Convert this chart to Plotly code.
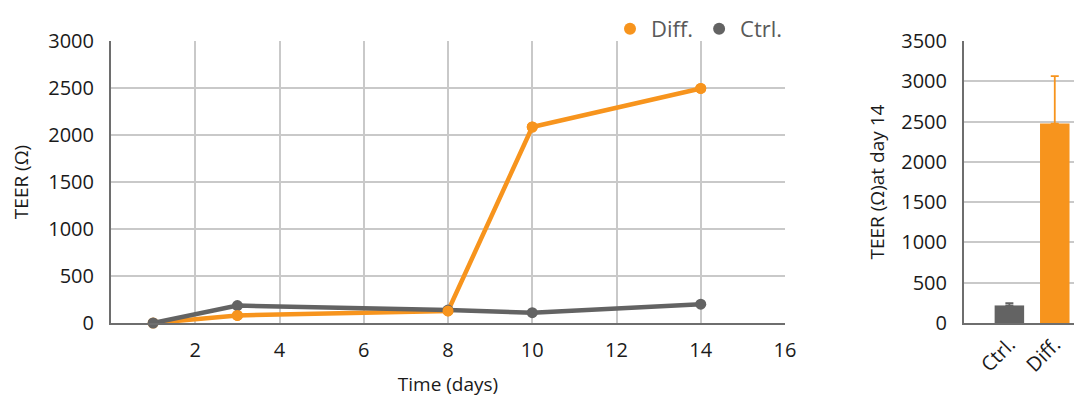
import plotly.graph_objects as go

days = [1, 3, 8, 10, 14]
diff_teer = [0, 80, 128, 2085, 2495]
ctrl_teer = [0, 185, 138, 110, 200]

bar_cats = ["Ctrl.", "Diff."]
bar_vals = [218, 2475]
bar_err = [28, 590]

ORANGE = "#F7941D"
GREY = "#636363"
FONT = "Open Sans"
OFF = 8  # browser body margin
W, H = 1082 - OFF, 398 - OFF

def px_x(p):
    return (p - OFF) / W

def px_y(p):
    return 1 - (p - OFF) / H

fig = go.Figure()

# Left line chart
fig.add_trace(go.Scatter(x=days, y=diff_teer, mode="lines+markers", name="Diff.",
                         line=dict(color=ORANGE, width=4.5), marker=dict(size=11, color=ORANGE),
                         cliponaxis=False, showlegend=False, xaxis="x", yaxis="y"))
fig.add_trace(go.Scatter(x=days, y=ctrl_teer, mode="lines+markers", name="Ctrl.",
                         line=dict(color=GREY, width=4.5), marker=dict(size=11, color=GREY),
                         cliponaxis=False, showlegend=False, xaxis="x", yaxis="y"))
fig.add_trace(go.Scatter(x=days[1:], y=diff_teer[1:], mode="markers",
                         marker=dict(size=11, color=ORANGE), cliponaxis=False,
                         showlegend=False, hoverinfo="skip", xaxis="x", yaxis="y"))
# legend entries (dots only)
fig.add_trace(go.Scatter(x=[None], y=[None], mode="markers", name="Diff.",
                         marker=dict(size=12, color=ORANGE), xaxis="x", yaxis="y"))
fig.add_trace(go.Scatter(x=[None], y=[None], mode="markers", name="Ctrl.",
                         marker=dict(size=12, color=GREY), xaxis="x", yaxis="y"))

# Right bar chart
for i, (c, col) in enumerate(zip(bar_cats, [GREY, ORANGE])):
    fig.add_trace(go.Bar(x=[c], y=[bar_vals[i]], marker=dict(color=col, line=dict(width=0)),
                         width=0.65, showlegend=False, xaxis="x2", yaxis="y2",
                         error_y=dict(type="data", array=[bar_err[i]], arrayminus=[0], symmetric=False,
                                      color=col, thickness=1.8, width=4)))

grid = "#C9C9C9"
axis_line = "#6E6E6E"

fig.update_layout(
    width=W, height=H,
    margin=dict(l=0, r=0, t=0, b=0),
    paper_bgcolor="white", plot_bgcolor="white",
    font=dict(family=FONT, size=20, color="#1a1a1a"),
    barmode="overlay",
    showlegend=True,
    legend=dict(orientation="h", x=px_x(788), xanchor="right", y=1, yanchor="top",
                font=dict(size=22, color="#595959"), itemsizing="constant",
                bgcolor="rgba(0,0,0,0)", traceorder="normal", itemwidth=32),
    xaxis=dict(domain=[px_x(111), px_x(785)], range=[0, 16], tickvals=[2, 4, 6, 8, 10, 12, 14, 16],
               showgrid=True, gridcolor=grid, gridwidth=1.5, zeroline=False,
               showline=True, linecolor=axis_line, linewidth=2, mirror=False,
               title=dict(text="Time (days)", font=dict(size=19), standoff=16),
               anchor="y", ticks="", ticklabelstandoff=8, automargin=False),
    yaxis=dict(domain=[px_y(323), px_y(41)], range=[0, 3000], dtick=500,
               showgrid=True, gridcolor=grid, gridwidth=1.5, zeroline=False,
               showline=True, linecolor=axis_line, linewidth=2,
               title=dict(text="TEER (Ω)", font=dict(size=19), standoff=16),
               anchor="x", ticks="", ticklabelstandoff=11, automargin=False),
    xaxis2=dict(domain=[px_x(964), 1.0], range=[-1, 1.6], anchor="y2", showgrid=False, zeroline=False,
                showline=True, linecolor=axis_line, linewidth=2, tickangle=-45,
                tickfont=dict(size=20), ticks="", automargin=False),
    yaxis2=dict(domain=[px_y(323), px_y(41)], range=[0, 3500], dtick=500, anchor="x2",
                showgrid=True, gridcolor=grid, gridwidth=1.5, zeroline=False,
                showline=True, linecolor=axis_line, linewidth=2,
                title=dict(text="TEER (Ω)at day 14", font=dict(size=19), standoff=12),
                ticks="", ticklabelstandoff=11, automargin=False),
)

fig.write_html("out.html")
